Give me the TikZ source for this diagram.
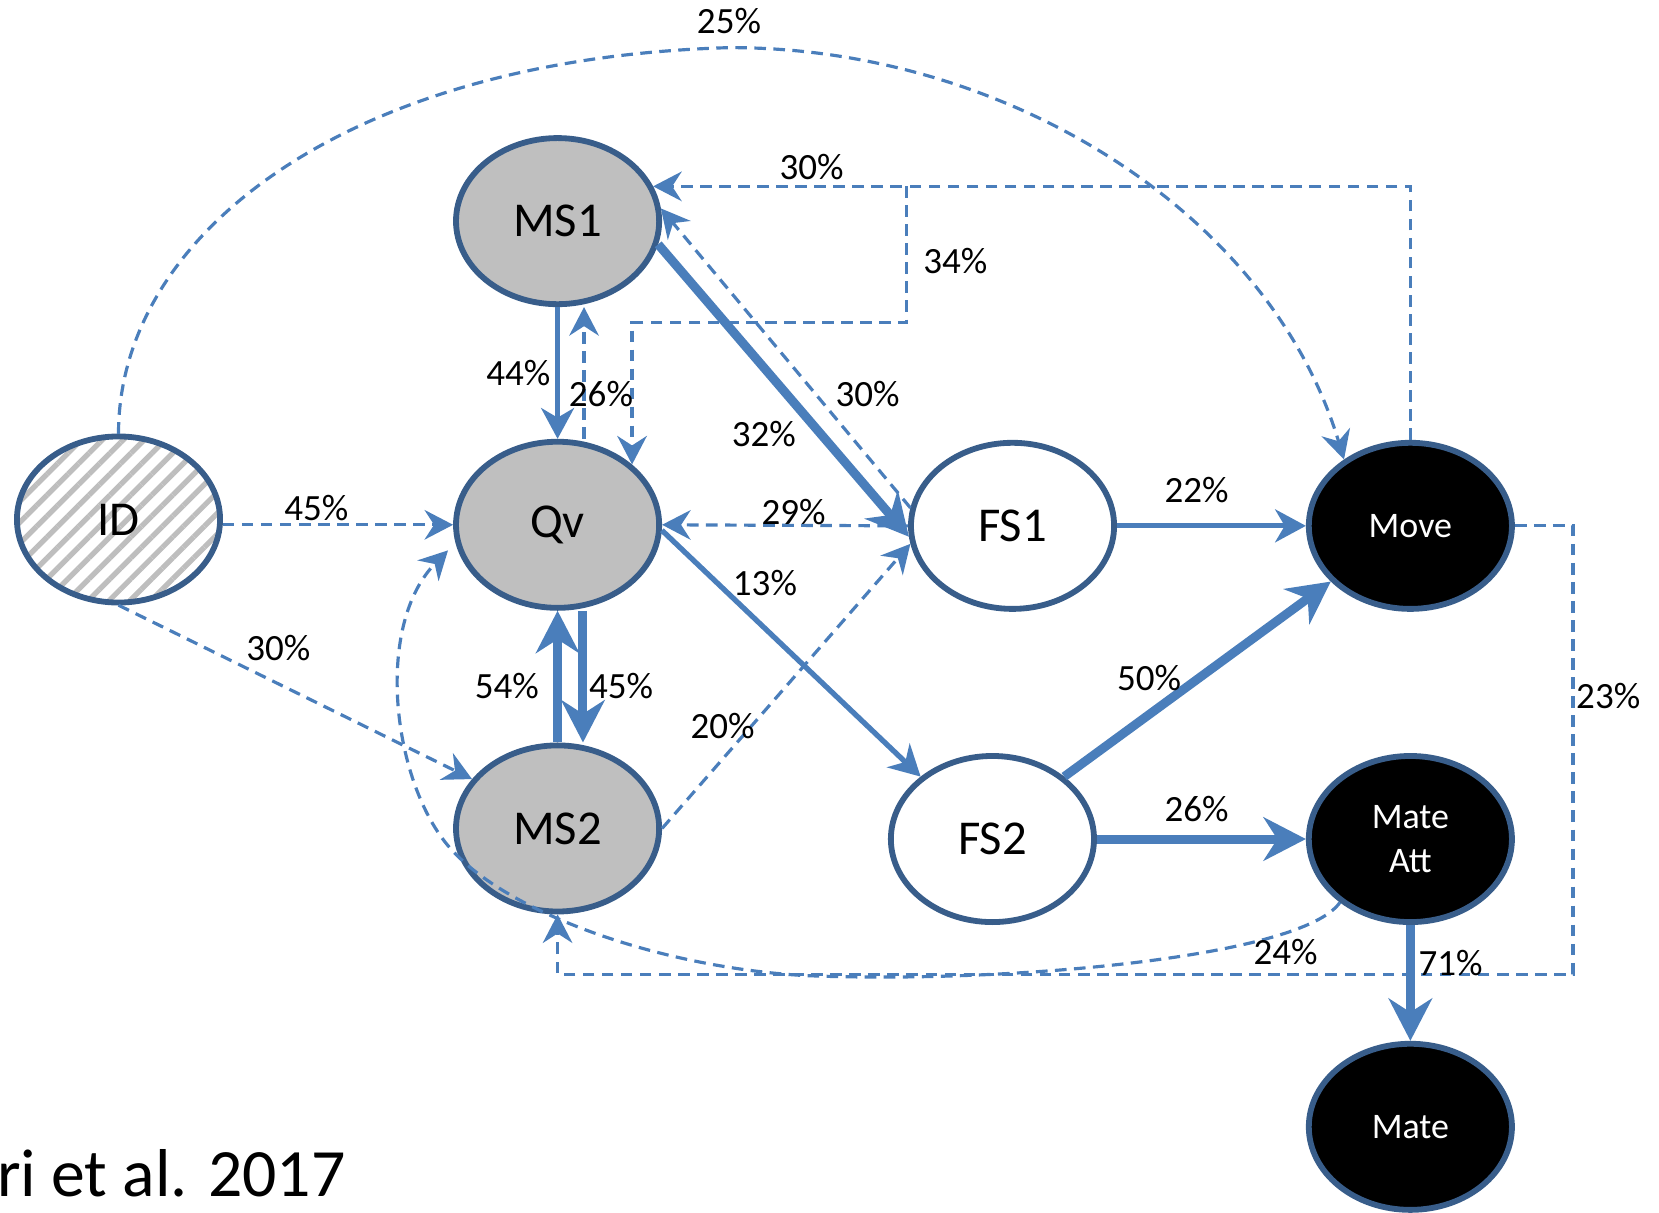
\documentclass[tikz,border=0pt]{standalone}
\usepackage{fontspec}
\setmainfont{Carlito}
\usetikzlibrary{arrows.meta,shapes.geometric,patterns.meta}
\definecolor{arrowblue}{RGB}{74,126,187}
\definecolor{nodeborder}{RGB}{56,93,138}
\definecolor{nodegray}{RGB}{191,191,191}
\definecolor{stripe}{RGB}{190,190,190}
\begin{document}
\begin{tikzpicture}[x=1pt,y=-1pt,
  base/.style={ellipse, draw=nodeborder, line width=5.5pt, minimum width=192pt, minimum height=157pt, inner sep=0pt},
  graynode/.style={base, fill=nodegray, font=\fontsize{46}{55}\selectfont},
  whitenode/.style={base, fill=white, font=\fontsize{46}{55}\selectfont},
  idnode/.style={base, pattern={Lines[angle=45,distance=14pt,line width=5pt]}, pattern color=stripe, font=\fontsize{46}{55}\selectfont},
  blacknode/.style={base, fill=black, text=white, font=\fontsize{34}{41}\selectfont, align=center},
  lbl/.style={font=\fontsize{35}{42}\selectfont, inner sep=0pt},
  dsh/.style={draw=arrowblue, line width=3pt, dash pattern=on 11pt off 7pt, -{Stealth[length=27pt,width=28pt,inset=9pt]}},
  med/.style={draw=arrowblue, line width=5pt, -{Stealth[length=29pt,width=31pt,inset=9pt]}},
  thk/.style={draw=arrowblue, line width=8.5pt, -{Stealth[length=40pt,width=41pt,inset=13pt]}}
]
\useasboundingbox (0,0) rectangle (1568,1146);

% nodes
\node[idnode] (ID) at (112,491) {ID};
\node[graynode] (MS1) at (527,209) {MS1};
\node[graynode] (Qv) at (527,496) {Qv};
\node[graynode] (MS2) at (527,783) {MS2};
\node[whitenode] (FS1) at (957,497) {FS1};
\node[whitenode] (FS2) at (938,793) {FS2};
\node[blacknode] (Move) at (1333,497) {Move};
\node[blacknode] (MateAtt) at (1333,793) {Mate\\Att};
\node[blacknode] (Mate) at (1333,1065) {Mate};

% connectors
\draw[dsh] (ID.north) .. controls (112,220) and (330,55) .. (690,45) .. controls (950,45) and (1200,200) .. (Move.135);
\draw[dsh] (Move.north) |- (MS1.20);
\coordinate (j34) at (857,176);
\draw[dsh] (j34) -- ++(0,129) -| (Qv.39);
\draw[med] (MS1.south) -- (Qv.north);
\draw[dsh] ([xshift=25pt]Qv.north) -- ([xshift=25pt]MS1.south);
\draw[thk] (MS1.-13) -- (FS1.186);
\draw[dsh] (FS1.170) -- (MS1.7);
\draw[dsh] (FS1.west) -- (Qv.east);
\draw[med] (Qv.-3) -- (FS2.139);
\draw[thk] (MS2.north) -- (Qv.south);
\draw[thk] ([xshift=24pt]Qv.south) -- ([xshift=24pt]MS2.north);
\draw[dsh] (Qv.west -| ID.east) -- (Qv.west);
\draw[dsh] (ID.south) -- (MS2.150);
\draw[dsh] (MS2.east) -- (FS1.190);
\draw[med] (FS1.east) -- (Move.west);
\draw[thk] (FS2.41) -- (Move.215);
\draw[thk] (FS2.east) -- (MateAtt.west);
\draw[thk] (MateAtt.south) -- (Mate.north);
\draw[dsh] (Move.east) -- ++(55,0) -- ++(0,424) -| (MS2.south);
\draw[dsh, shorten >=10pt] (MateAtt.222) .. controls (1230,905) and (950,930) .. (760,922) .. controls (620,914) and (470,860) .. (420,795) .. controls (370,730) and (355,590) .. (Qv.190);

% labels
\node[lbl] (l25) at (689,20) {25\%};
\node[lbl] (l30a) at (767,158) {30\%};
\node[lbl] (l34) at (903,247) {34\%};
\node[lbl] (l44) at (490,353) {44\%};
\node[lbl] (l26a) at (568,372) {26\%};
\node[lbl] (l32) at (722,410) {32\%};
\node[lbl] (l30b) at (820,372) {30\%};
\node[lbl] (l45a) at (299,480) {45\%};
\node[lbl] (l29) at (750,484) {29\%};
\node[lbl] (l22) at (1131,463) {22\%};
\node[lbl] (l13) at (723,551) {13\%};
\node[lbl] (l30c) at (263,612) {30\%};
\node[lbl] (l54) at (479,648) {54\%};
\node[lbl] (l45b) at (587,648) {45\%};
\node[lbl] (l50) at (1086,641) {50\%};
\node[lbl] (l20) at (683,686) {20\%};
\node[lbl] (l23) at (1520,658) {23\%};
\node[lbl] (l26b) at (1131,765) {26\%};
\node[lbl] (l24) at (1215,900) {24\%};
\node[lbl] (l71) at (1371,910) {71\%};

\node[anchor=base west, inner sep=0pt, font=\fontsize{64}{77}\selectfont] (cite) at (-3,1131) {ri et al. 2017};
\end{tikzpicture}
\end{document}
